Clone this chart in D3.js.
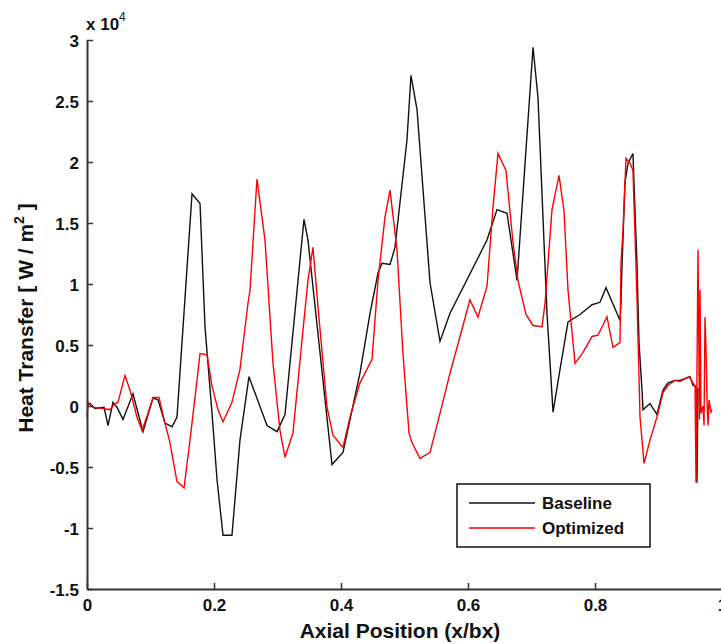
<!DOCTYPE html>
<html>
<head>
<meta charset="utf-8">
<script src="https://cdn.jsdelivr.net/npm/d3@7"></script>
<style>
  body { margin: 0; background: #fff; }
  svg { display: block; font-family: Arial, "Liberation Sans", sans-serif; }
</style>
</head>
<body>
<svg width="721" height="644"></svg>
<script>
// heat transfer values in units of 1e4 W/m^2
const baseX = [0, 0.0047, 0.0126, 0.0268, 0.0331, 0.0409, 0.0472, 0.0567, 0.0724, 0.0882,
  0.1039, 0.1118, 0.1228, 0.1339, 0.1417, 0.1654, 0.178, 0.1858, 0.1969, 0.2047,
  0.2142, 0.2283, 0.2409, 0.2551, 0.2835, 0.2992, 0.3118, 0.3417, 0.348, 0.3858,
  0.4031, 0.4299, 0.4457, 0.4583, 0.4646, 0.4772, 0.485, 0.5039, 0.5102, 0.5197,
  0.5402, 0.5559, 0.5717, 0.6299, 0.6457, 0.6614, 0.6772, 0.7024, 0.7102, 0.7244,
  0.7339, 0.7449, 0.7575, 0.7764, 0.7953, 0.8079, 0.8173, 0.8394, 0.8409, 0.8425,
  0.8472, 0.852, 0.8598, 0.8614, 0.8661, 0.8693, 0.874, 0.8756, 0.8866, 0.8976,
  0.9071, 0.915, 0.926, 0.9339, 0.9496, 0.9543, 0.9591, 0.9606, 0.9622];
const baseY = [0, 0.02, -0.02, -0.01, -0.16, 0.03, -0.01, -0.11, 0.1, -0.21,
  0.065, 0.05, -0.14, -0.17, -0.09, 1.74, 1.66, 0.65, -0.06, -0.6,
  -1.06, -1.06, -0.28, 0.24, -0.16, -0.21, -0.07, 1.53, 1.36, -0.48,
  -0.38, 0.27, 0.76, 1.09, 1.17, 1.16, 1.3, 2.18, 2.71, 2.43,
  1.01, 0.53, 0.76, 1.36, 1.61, 1.58, 1.03, 2.94, 2.53, 0.76,
  -0.05, 0.3, 0.69, 0.75, 0.83, 0.85, 0.97, 0.7, 0.84, 1.14,
  1.83, 1.99, 2.07, 1.83, 1.17, 0.52, 0.13, -0.03, 0.02, -0.07,
  0.13, 0.19, 0.21, 0.21, 0.24, 0.17, 0.16, -0.63, 0.15];

const optX = [0, 0.0016, 0.0094, 0.0252, 0.0362, 0.0441, 0.0488, 0.0598, 0.0677, 0.0787,
  0.0866, 0.0961, 0.1039, 0.1134, 0.1228, 0.1307, 0.1417, 0.1528, 0.1622, 0.1732,
  0.178, 0.189, 0.1969, 0.2063, 0.2142, 0.2283, 0.2409, 0.2535, 0.2567, 0.2677,
  0.2803, 0.2929, 0.3039, 0.3118, 0.3244, 0.3386, 0.348, 0.3559, 0.3638, 0.378,
  0.3874, 0.4031, 0.4142, 0.4299, 0.4488, 0.4583, 0.4693, 0.4772, 0.4882, 0.4976,
  0.5071, 0.5118, 0.5244, 0.5402, 0.5559, 0.5717, 0.5874, 0.6031, 0.6157, 0.6299,
  0.6394, 0.6472, 0.6598, 0.6709, 0.6787, 0.6913, 0.7024, 0.7165, 0.7213, 0.7323,
  0.7433, 0.7512, 0.7575, 0.7685, 0.7811, 0.7953, 0.8047, 0.8189, 0.8283, 0.8394,
  0.8409, 0.8441, 0.8488, 0.8551, 0.8598, 0.8661, 0.8709, 0.8772, 0.8866, 0.8976,
  0.9071, 0.915, 0.926, 0.9339, 0.948, 0.9543, 0.9575, 0.9591, 0.9622, 0.9646,
  0.9654, 0.9669, 0.9701, 0.9717, 0.9732, 0.9748, 0.9764, 0.978, 0.9795, 0.9827,
  0.9843];
const optY = [-0.09, 0.03, -0.01, -0.02, -0.03, 0.02, 0.03, 0.25, 0.13, -0.09,
  -0.2, -0.06, 0.07, 0.07, -0.14, -0.3, -0.62, -0.67, -0.28, 0.21,
  0.43, 0.42, 0.16, -0.03, -0.13, 0.03, 0.3, 0.84, 0.95, 1.86,
  1.36, 0.35, -0.2, -0.42, -0.22, 0.54, 1.03, 1.3, 0.81, -0.01,
  -0.24, -0.34, -0.09, 0.19, 0.38, 1.03, 1.55, 1.77, 1.28, 0.43,
  -0.22, -0.3, -0.43, -0.38, -0.06, 0.27, 0.57, 0.87, 0.73, 0.98,
  1.63, 2.07, 1.93, 1.34, 1.03, 0.75, 0.66, 0.65, 0.84, 1.61,
  1.89, 1.6, 0.95, 0.35, 0.44, 0.57, 0.58, 0.73, 0.48, 0.52,
  1.17, 1.44, 2.03, 1.99, 1.93, 0.89, -0.09, -0.47, -0.28, -0.09,
  0.11, 0.17, 0.21, 0.2, 0.24, 0.19, 0.16, -0.63, 1.28, -0.11,
  0.95, -0.06, 0, -0.16, 0.73, 0.48, 0.05, -0.16, 0.05, -0.05,
  -0.03];

const xTicks = [0, 0.2, 0.4, 0.6, 0.8, 1];
const yTicks = [-1.5, -1, -0.5, 0, 0.5, 1, 1.5, 2, 2.5, 3];
const seriesNames = ["Baseline", "Optimized"];
const seriesColors = ["#111", "#ff0000"];

const baseline = baseX.map((x, i) => ({ x: x, y: baseY[i] }));
const optimized = optX.map((x, i) => ({ x: x, y: optY[i] }));

const svg = d3.select("svg");

const x = d3.scaleLinear().domain([0, 1]).range([87, 722]);
const y = d3.scaleLinear().domain([-1.5, 3]).range([589, 40]);

const line = d3.line().x(d => x(d.x)).y(d => y(d.y));

// curves
svg.append("path").datum(baseline)
  .attr("fill", "none").attr("stroke", seriesColors[0]).attr("stroke-width", 1.4)
  .attr("d", line);
svg.append("path").datum(optimized)
  .attr("fill", "none").attr("stroke", seriesColors[1]).attr("stroke-width", 1.4)
  .attr("d", line);

// plain hyphen minus like matlab
const fmt = d => String(d);

// axes, matlab style ticks pointing inward
const xAxis = d3.axisBottom(x).tickValues(xTicks).tickSize(-6).tickSizeOuter(0)
  .tickPadding(10).tickFormat(fmt);
const yAxis = d3.axisLeft(y).tickValues(yTicks).tickSize(-6).tickSizeOuter(0)
  .tickPadding(8).tickFormat(fmt);

const gx = svg.append("g").attr("transform", "translate(0,589)").call(xAxis);
const gy = svg.append("g").attr("transform", "translate(87,0)").call(yAxis);

[gx, gy].forEach(g => {
  g.select(".domain").attr("stroke", "#333").attr("stroke-width", 2);
  g.selectAll(".tick line").attr("stroke", "#333").attr("stroke-width", 1.5);
  g.selectAll(".tick text").attr("fill", "#111")
    .style("font-size", "17px").style("font-weight", "bold")
    .style("font-family", "Arial, 'Liberation Sans', sans-serif");
});
gy.selectAll(".tick text").attr("dy", "0.36em");

// exponent label
const ex = svg.append("text").attr("x", 86).attr("y", 30)
  .style("font-size", "17px").attr("fill", "#111");
ex.append("tspan").text("x 10").style("font-weight", "bold");
ex.append("tspan").text("4").attr("dy", -9).style("font-size", "12px");

// axis titles
svg.append("text").attr("x", 400).attr("y", 638).attr("text-anchor", "middle")
  .style("font-size", "21px").style("font-weight", "bold").attr("fill", "#111")
  .text("Axial Position (x/bx)");

const yl = svg.append("text").attr("transform", "translate(33,318) rotate(-90)")
  .attr("text-anchor", "middle").style("font-size", "21px").style("font-weight", "bold")
  .attr("fill", "#111");
yl.append("tspan").text("Heat Transfer  [ W / m");
yl.append("tspan").text("2").attr("dy", -9).style("font-size", "14px");
yl.append("tspan").text(" ]").attr("dy", 9);

// legend
const leg = svg.append("g");
leg.append("rect").attr("x", 457).attr("y", 484).attr("width", 193).attr("height", 63)
  .attr("fill", "#fff").attr("stroke", "#111").attr("stroke-width", 1.5);
seriesNames.forEach((name, i) => {
  const ly = 503 + i * 25;
  leg.append("line").attr("x1", 469).attr("x2", 535).attr("y1", ly).attr("y2", ly)
    .attr("stroke", seriesColors[i]).attr("stroke-width", 1.4);
  leg.append("text").attr("x", 542).attr("y", ly + 6)
    .style("font-size", "17px").style("font-weight", "bold").attr("fill", "#111")
    .text(name);
});
</script>
</body>
</html>
